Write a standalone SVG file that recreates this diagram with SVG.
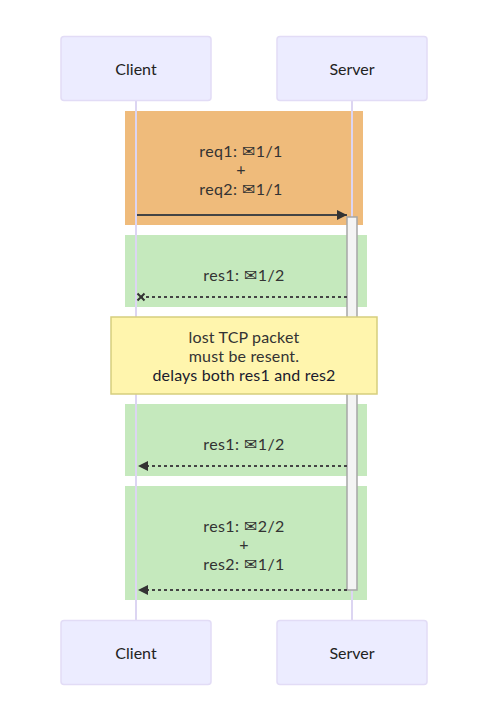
<svg xmlns="http://www.w3.org/2000/svg" width="479" height="714" viewBox="0 0 479 714">
<style>
text{font-family:"Lato","Noto Sans","DejaVu Sans",sans-serif;font-size:16px;text-anchor:middle;fill:#333;letter-spacing:.16px}
.lab{letter-spacing:.4px}
.env{font-family:"Noto Sans CJK SC","DejaVu Sans",sans-serif;font-size:16px}
.actor{fill:#ECECFF;stroke:#E2DCF6;stroke-width:1.5}
.actor-t{fill:#222;letter-spacing:0}
.life{stroke:#DCD5F2;stroke-width:2;fill:none}
.msg{stroke:#444;stroke-width:2;fill:none}
.dash{stroke-dasharray:3 3}
.note-t{fill:#333}
</style>
<defs>
<marker id="arrow" markerUnits="userSpaceOnUse" markerWidth="11" markerHeight="11" refX="10" refY="5.500" orient="auto"><path d="M0 0.500L10 5.500L0 10.500z" fill="#333"/></marker>
<marker id="cross" markerUnits="userSpaceOnUse" markerWidth="10" markerHeight="10" refX="5" refY="5" orient="auto"><path d="M1.500 1.500L8.500 8.500M8.500 1.500L1.500 8.500" stroke="#333" stroke-width="2" fill="none"/></marker>
</defs>
<g id="bands">
<rect x="125" y="111" width="238" height="114" fill="#EFBB7B"/>
<rect x="125" y="235" width="242" height="72" fill="#C5E9BD"/>
<rect x="125" y="404" width="242" height="72" fill="#C5E9BD"/>
<rect x="125" y="486" width="242" height="114" fill="#C5E9BD"/>
</g>
<g id="lifelines">
<line class="life" x1="136" y1="100" x2="136" y2="620"/>
<line class="life" x1="352" y1="100" x2="352" y2="620"/>
</g>
<g id="actor-client-top"><rect class="actor" x="61" y="36.500" width="150" height="64" rx="3"/><text class="actor-t" x="136" y="75">Client</text></g>
<g id="actor-server-top"><rect class="actor" x="277" y="36.500" width="150" height="64" rx="3"/><text class="actor-t" x="352" y="75">Server</text></g>
<g id="activation"><rect x="347" y="217" width="10" height="373" fill="#F4F4F4" stroke="#A6A6A6" stroke-width="1.500"/></g>
<g id="connectors">
<line class="msg" x1="137" y1="215" x2="347" y2="215" marker-end="url(#arrow)"/>
<line class="msg dash" x1="347" y1="297" x2="141" y2="297" marker-end="url(#cross)"/>
<line class="msg dash" x1="347" y1="466" x2="138" y2="466" marker-end="url(#arrow)"/>
<line class="msg dash" x1="347" y1="590" x2="138" y2="590" marker-end="url(#arrow)"/>
</g>
<g id="labels">
<text class="lab" x="241" y="157">req1: <tspan class="env">✉</tspan>1/1</text>
<text class="lab" x="241" y="175">+</text>
<text class="lab" x="241" y="195">req2: <tspan class="env">✉</tspan>1/1</text>
<text class="lab" x="244" y="281">res1: <tspan class="env">✉</tspan>1/2</text>
<text class="lab" x="244" y="450">res1: <tspan class="env">✉</tspan>1/2</text>
<text class="lab" x="244" y="532">res1: <tspan class="env">✉</tspan>2/2</text>
<text class="lab" x="244" y="550">+</text>
<text class="lab" x="244" y="570">res2: <tspan class="env">✉</tspan>1/1</text>
</g>
<g id="note">
<rect x="111" y="317" width="266" height="77" fill="#FFF5AD" stroke="#D6CE7E" stroke-width="1.500"/>
<text class="note-t" x="244" y="343">lost TCP packet</text>
<text class="note-t" x="244" y="362">must be resent.</text>
<text class="note-t" x="244" y="381" style="fill:#1a1a2e">delays both res1 and res2</text>
</g>
<g id="actor-client-bottom"><rect class="actor" x="61" y="620.500" width="150" height="64" rx="3"/><text class="actor-t" x="136" y="659">Client</text></g>
<g id="actor-server-bottom"><rect class="actor" x="277" y="620.500" width="150" height="64" rx="3"/><text class="actor-t" x="352" y="659">Server</text></g>
</svg>
